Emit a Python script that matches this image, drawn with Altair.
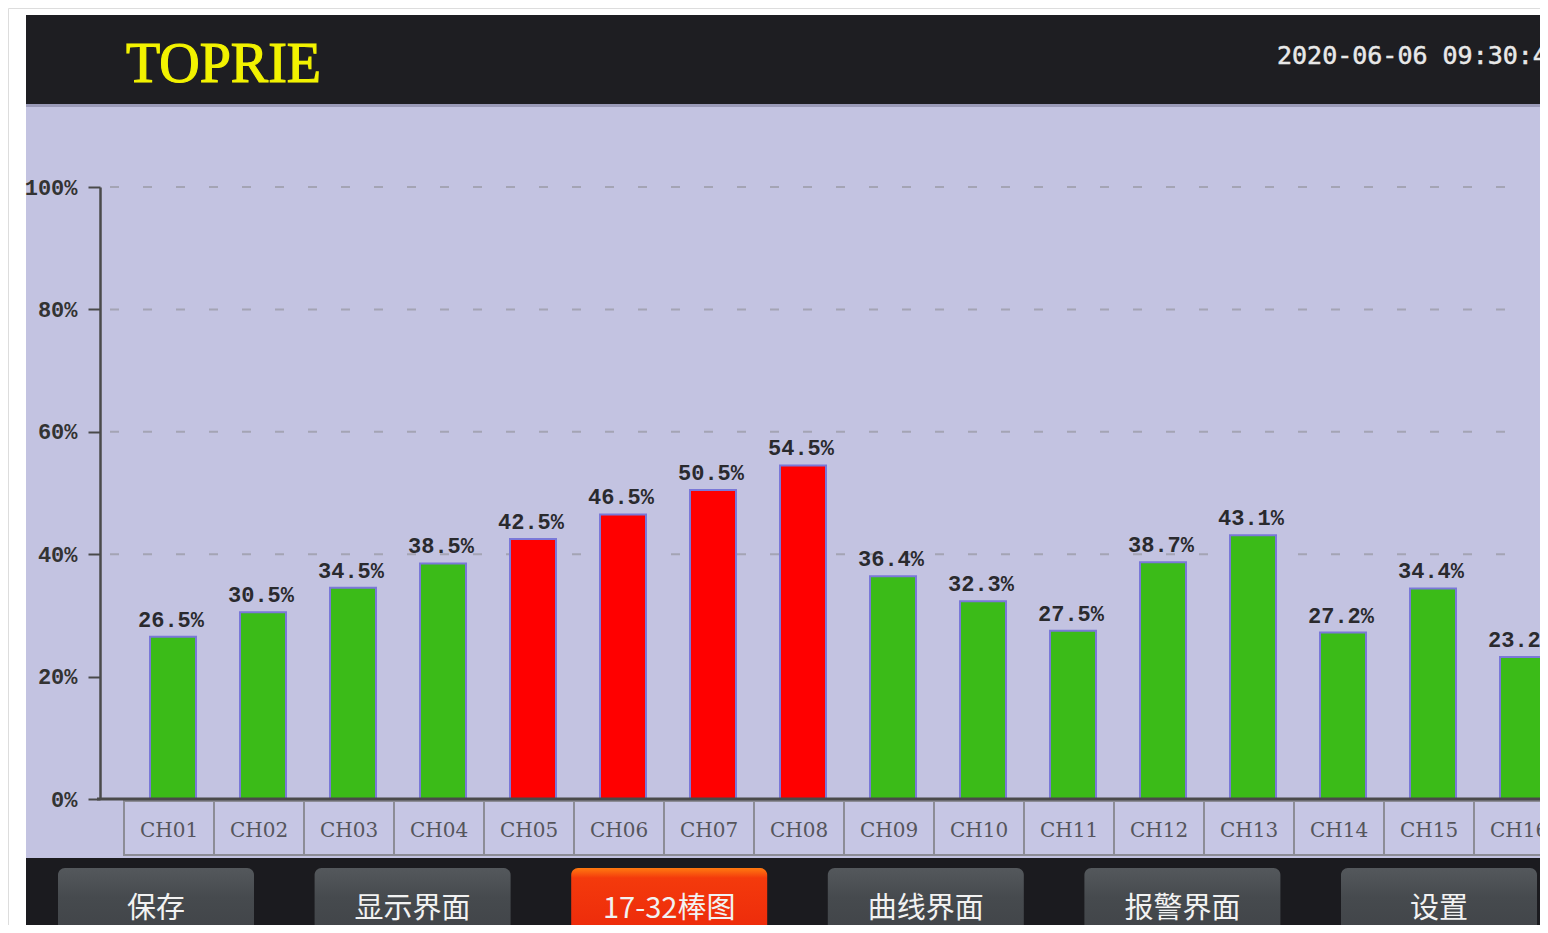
import altair as alt
import pandas as pd

channels = ["CH01", "CH02", "CH03", "CH04", "CH05", "CH06", "CH07", "CH08",
            "CH09", "CH10", "CH11", "CH12", "CH13", "CH14", "CH15", "CH16"]
values = [26.5, 30.5, 34.5, 38.5, 42.5, 46.5, 50.5, 54.5,
          36.4, 32.3, 27.5, 38.7, 43.1, 27.2, 34.4, 23.2]
alarm = [False, False, False, False, True, True, True, True,
         False, False, False, False, False, False, False, False]
y_ticks = [0, 20, 40, 60, 80, 100]
grid_levels = [40, 60, 80, 100]
buttons = ["保存", "显示界面", "17-32棒图", "曲线界面", "报警界面", "设置"]
active_button = "17-32棒图"
brand = "TOPRIE"
timestamp = "2020-06-06 09:30:45"

W, H = 1532, 917
GREEN = "#3bbb18"
RED = "#ff0000"

df = pd.DataFrame({
    "ch": channels,
    "v": values,
    "color": [RED if a else GREEN for a in alarm],
    "label": [f"{v:.1f}%" for v in values],
})

one = alt.Data(values=[{"k": 1}])

xscale = alt.Scale(domain=channels, range=[116, 1556], paddingInner=0, paddingOuter=0)
yscale = alt.Scale(domain=[0, 100], range=[791, 179])

x_axis = alt.Axis(orient="bottom", offset=-126, domain=False, ticks=False,
                  labelPadding=31, labelBaseline="middle", labelAngle=0,
                  labelFont="DejaVu Serif", labelFontSize=20,
                  labelColor="#55555c", title=None, zindex=2, grid=False)
y_axis = alt.Axis(values=y_ticks, labelExpr="datum.value + '%'", offset=-92,
                  domainColor="#4a4a4a", domainWidth=2.5,
                  tickColor="#4a4a4a", tickWidth=2, tickSize=12,
                  labelFont="Liberation Mono", labelFontSize=22,
                  labelFontWeight="bold", labelColor="#333333",
                  labelPadding=11, grid=False, title=None, zindex=2)


def panel(x1, x2, y1, y2, color, **kw):
    return alt.Chart(one).mark_rect(color=color, **kw).encode(
        x=alt.value(x1), x2=alt.value(x2), y=alt.value(y1), y2=alt.value(y2))


layers = []
# header, plot background, footer
layers.append(panel(18, 1545, 7, 98, "#1e1e22"))
layers.append(panel(18, 1545, 96, 99, "#9a9ab8"))
layers.append(panel(18, 1545, 99, 850, "#c3c3e1"))
layers.append(panel(18, 1545, 850, 940, "#1b1b1f"))

layers.append(alt.Chart(one).mark_text(
    text=brand, font="Liberation Serif", fontSize=56, color="#f2f200",
    align="left", baseline="alphabetic", stroke="#f2f200", strokeWidth=1.2
).encode(x=alt.value(118), y=alt.value(74)))
layers.append(alt.Chart(one).mark_text(
    text=timestamp, font="DejaVu Sans Mono", fontSize=25,
    color="#e8e8e8", align="left", baseline="alphabetic",
    stroke="#e8e8e8", strokeWidth=0.5
).encode(x=alt.value(1269), y=alt.value(56)))

# buttons
for i, name in enumerate(buttons):
    left = 50 + i * 256.6
    if name == active_button:
        fill = alt.Gradient(gradient="linear", x1=0, x2=0, y1=0, y2=1,
                            stops=[alt.GradientStop(color="#ff7a10", offset=0),
                                   alt.GradientStop(color="#f43a0c", offset=0.1),
                                   alt.GradientStop(color="#e8200a", offset=1)])
    else:
        fill = alt.Gradient(gradient="linear", x1=0, x2=0, y1=0, y2=1,
                            stops=[alt.GradientStop(color="#54585c", offset=0),
                                   alt.GradientStop(color="#464a4e", offset=0.3),
                                   alt.GradientStop(color="#3c3f43", offset=1)])
    layers.append(alt.Chart(one).mark_rect(color=fill, cornerRadius=7).encode(
        x=alt.value(left), x2=alt.value(left + 196), y=alt.value(860), y2=alt.value(960)))
    layers.append(alt.Chart(one).mark_text(
        text=name, font="Noto Sans CJK SC", fontSize=29, color="#f2f2f2",
        align="center", baseline="middle"
    ).encode(x=alt.value(left + 98), y=alt.value(901)))

grid_df = pd.DataFrame({"g": grid_levels})
layers.append(alt.Chart(grid_df).mark_rule(
    color="#a4a4b4", strokeWidth=2, strokeDash=[9, 24]
).encode(y=alt.Y("g:Q", scale=yscale, axis=y_axis),
         x=alt.value(102), x2=alt.value(1520)))

# category cells
layers.append(alt.Chart(df).mark_rect(
    fill="#c6c6e4", stroke="#8c8c96", strokeWidth=2
).encode(x=alt.X("ch:N", scale=xscale, sort=channels, axis=x_axis),
         y=alt.value(793), y2=alt.value(847)))

bars = alt.Chart(df).mark_bar(width=46, xOffset=4, stroke="#7a78d8", strokeWidth=2).encode(
    x=alt.X("ch:N", scale=xscale, sort=channels, axis=x_axis),
    y=alt.Y("v:Q", scale=yscale, axis=y_axis),
    color=alt.Color("color:N", scale=None),
)
layers.append(bars)

layers.append(alt.Chart(df).mark_text(
    font="Liberation Mono", fontSize=22, fontWeight="bold", color="#2a2a2e",
    baseline="alphabetic", dy=-10, dx=2
).encode(x=alt.X("ch:N", scale=xscale, sort=channels, axis=x_axis),
         y=alt.Y("v:Q", scale=yscale, axis=y_axis),
         text="label:N"))

# x-axis base line
layers.append(alt.Chart(one).mark_rule(color="#4a4a4a", strokeWidth=3).encode(
    y=alt.datum(0, scale=yscale, axis=y_axis), x=alt.value(89), x2=alt.value(1545)))

chart = alt.layer(*layers).properties(
    width=W, height=H, padding=0,
    autosize=alt.AutoSizeParams(type="none"),
).configure_view(stroke=None).configure(background="white")

chart.save("out.html", embed_options={"renderer": "svg", "actions": False})
